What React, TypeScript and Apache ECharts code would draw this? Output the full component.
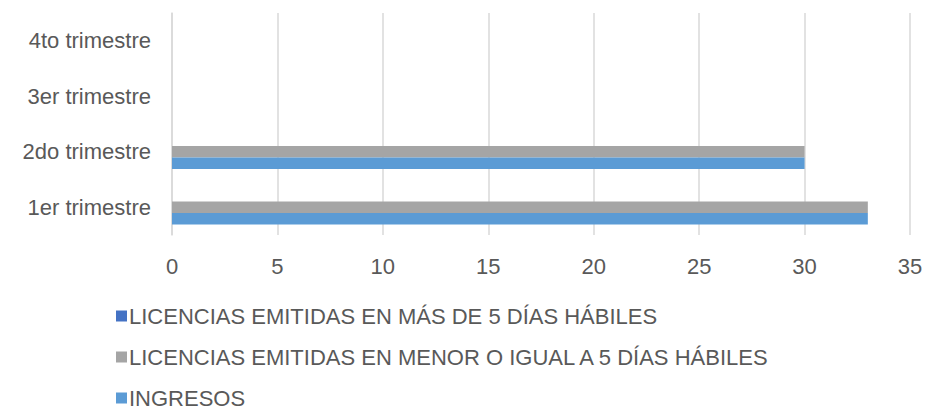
import React, { useEffect, useRef } from "react";
import * as echarts from "echarts";

const categories = ["1er trimestre", "2do trimestre", "3er trimestre", "4to trimestre"];
const seriesNames = [
  "LICENCIAS EMITIDAS EN MÁS DE 5 DÍAS HÁBILES",
  "LICENCIAS EMITIDAS EN MENOR O IGUAL A 5 DÍAS HÁBILES",
  "INGRESOS",
];
const masDe5 = [0, 0, null, null];
const menorIgual5 = [33, 30, null, null];
const ingresos = [33, 30, null, null];
const xTicks = [0, 5, 10, 15, 20, 25, 30, 35];

export default function App() {
  const ref = useRef<HTMLDivElement>(null);
  useEffect(() => {
    if (!ref.current) return;
    const chart = echarts.init(ref.current, undefined, { renderer: "svg" });
    const font = "Liberation Sans, Arial, sans-serif";
    chart.setOption({
      animation: false,
      grid: { left: 172, right: 16, top: 13, height: 222, containLabel: false },
      legend: {
        orient: "vertical",
        left: 116,
        top: 304,
        height: 140,
        padding: 0,
        itemWidth: 11,
        itemHeight: 11,
        itemGap: 17,
        icon: "rect",
        data: seriesNames,
        textStyle: { color: "#595959", fontSize: 22, fontFamily: font, lineHeight: 24, padding: [0, 0, 0, -3] },
      },
      xAxis: {
        type: "value",
        min: xTicks[0],
        max: xTicks[xTicks.length - 1],
        interval: 5,
        axisLine: { show: false },
        axisTick: { show: false },
        splitLine: { lineStyle: { color: "#d9d9d9", width: 1.5 } },
        axisLabel: { color: "#595959", fontSize: 22, fontFamily: font, margin: 20 },
      },
      yAxis: {
        type: "category",
        data: categories,
        axisLine: { show: true, lineStyle: { color: "#d9d9d9", width: 1.5 } },
        axisTick: { show: false },
        axisLabel: { color: "#595959", fontSize: 22, fontFamily: font, margin: 21 },
      },
      series: [
        { name: seriesNames[0], type: "bar", data: masDe5, itemStyle: { color: "#4472c4" }, barGap: "0%", barCategoryGap: "38%" },
        { name: seriesNames[1], type: "bar", data: menorIgual5, itemStyle: { color: "#a5a5a5" }, barGap: "0%", barCategoryGap: "38%" },
        { name: seriesNames[2], type: "bar", data: ingresos, itemStyle: { color: "#5b9bd5" }, barGap: "0%", barCategoryGap: "38%" },
      ],
    });
    return () => chart.dispose();
  }, []);
  return <div ref={ref} style={{ width: 926, height: 410, position: "absolute", left: 0, top: 0 }} />;
}
